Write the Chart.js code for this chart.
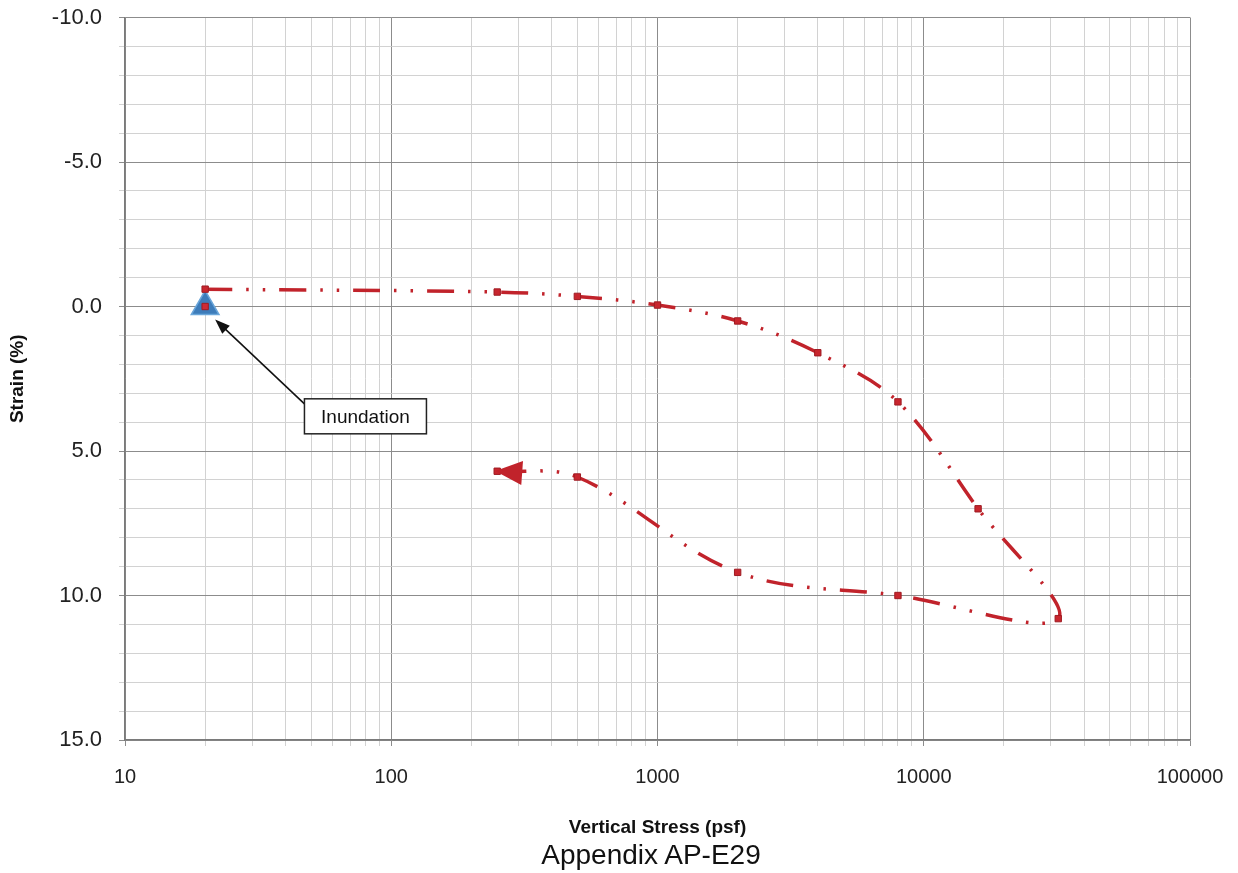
<!DOCTYPE html>
<html>
<head>
<meta charset="utf-8">
<script src="https://cdn.jsdelivr.net/npm/chart.js@4.4.1/dist/chart.umd.min.js"></script>
<style>
  html, body { margin:0; padding:0; background:#fff; }
  #wrap { position:relative; width:1238px; height:873px; }
  #appendix {
    position:absolute; left:0; width:1302px; top:838px; text-align:center;
    font-family:'Liberation Sans', Arial, sans-serif; font-size:28px; line-height:34px; color:#111;
  }
</style>
</head>
<body>
<div id="wrap">
  <canvas id="chart" width="1238" height="873"></canvas>
  <div id="appendix">Appendix AP-E29</div>
</div>
<script>
  // consolidation test: load / unload path
  const stress = [20, 250, 500, 1000, 2000, 4000, 8000, 16000, 32000, 8000, 2000, 500, 250];
  const strain = [-0.6, -0.5, -0.35, -0.05, 0.5, 1.6, 3.3, 7.0, 10.8, 10.0, 9.2, 5.9, 5.7];

  // inundation point
  const inundationStress = [20];
  const inundationStrain = [0.0];
  const noteText = 'Inundation';
  const noteAt = [80, 3.8];   // box centre, data coords

  // axis ticks
  const xMajorTicks = [10, 100, 1000, 10000, 100000];
  const yMajorTicks = [-10, -5, 0, 5, 10, 15];

  const RED = '#c1232b';
  const el = (id) => document.getElementById(id);

  const xy = (xs, ys) => xs.map((x, i) => ({x, y: ys[i]}));

  // arrow head at the end of the curve + inundation callout
  const extras = {
    id: 'extras',
    afterDatasetsDraw(chart) {
      const ctx = chart.ctx;
      const xs = chart.scales.x, ys = chart.scales.y;

      // arrow head on last point of curve
      const meta = chart.getDatasetMeta(0);
      const last = meta.data[meta.data.length - 1];
      let dx = last.x - last.cp1x, dy = last.y - last.cp1y;
      const len = Math.hypot(dx, dy) || 1;
      dx /= len; dy /= len;
      const L = 25, W = 12;
      ctx.save();
      ctx.fillStyle = RED;
      ctx.beginPath();
      ctx.moveTo(last.x + dx * 2, last.y + dy * 2);
      ctx.lineTo(last.x - dx * L - dy * W, last.y - dy * L + dx * W);
      ctx.lineTo(last.x - dx * L + dy * W, last.y - dy * L - dx * W);
      ctx.closePath();
      ctx.fill();
      ctx.restore();

      // callout box
      const bx = xs.getPixelForValue(noteAt[0]);
      const by = ys.getPixelForValue(noteAt[1]);
      const bw = 122, bh = 35;
      const left = bx - bw / 2, top = by - bh / 2;

      // arrow from box to inundation point
      const px = xs.getPixelForValue(inundationStress[0]) + 10;
      const py = ys.getPixelForValue(inundationStrain[0]) + 13;
      const tx = left, ty = top + 5;
      let ax = px - tx, ay = py - ty;
      const al = Math.hypot(ax, ay);
      ax /= al; ay /= al;
      ctx.save();
      ctx.strokeStyle = '#111';
      ctx.fillStyle = '#111';
      ctx.lineWidth = 1.6;
      ctx.beginPath();
      ctx.moveTo(tx, ty);
      ctx.lineTo(px - ax * 10, py - ay * 10);
      ctx.stroke();
      ctx.beginPath();
      ctx.moveTo(px, py);
      ctx.lineTo(px - ax * 15 - ay * 5.5, py - ay * 15 + ax * 5.5);
      ctx.lineTo(px - ax * 15 + ay * 5.5, py - ay * 15 - ax * 5.5);
      ctx.closePath();
      ctx.fill();

      ctx.fillStyle = '#fff';
      ctx.fillRect(left, top, bw, bh);
      ctx.strokeStyle = '#222';
      ctx.lineWidth = 1.5;
      ctx.strokeRect(left, top, bw, bh);
      ctx.fillStyle = '#111';
      ctx.font = '19px "Liberation Sans", Arial, sans-serif';
      ctx.textAlign = 'center';
      ctx.textBaseline = 'middle';
      ctx.fillText(noteText, bx, by + 1);
      ctx.restore();
    }
  };

  const gridColor = (major) => major ? '#8c8c8c' : '#d2d2d2';

  new Chart(el('chart').getContext('2d'), {
    type: 'scatter',
    data: {
      datasets: [
        {
          data: xy(stress, strain),
          showLine: true,
          borderColor: RED,
          borderWidth: 3.5,
          borderDash: [27, 14, 2.5, 14, 2.5, 14],
          tension: 0.35,
          pointStyle: 'rect',
          pointRadius: 4.5,
          pointBackgroundColor: '#c8262e',
          pointBorderColor: '#9e1b22',
          pointBorderWidth: 1
        },
        {
          data: xy(inundationStress, inundationStrain),
          showLine: false,
          pointStyle: 'rect',
          pointRadius: 4.5,
          pointBackgroundColor: '#cc2a35',
          pointBorderColor: '#9e1b22',
          pointBorderWidth: 1
        },
        {
          data: xy(inundationStress, inundationStrain),
          showLine: false,
          pointStyle: 'triangle',
          pointRadius: 16,
          pointBackgroundColor: '#3d7cba',
          pointBorderColor: '#6aa6da',
          pointBorderWidth: 1.5
        }
      ]
    },
    options: {
      responsive: false,
      animation: false,
      layout: { padding: { top: 17, right: 48, left: 0, bottom: 0 } },
      plugins: { legend: { display: false }, tooltip: { enabled: false } },
      scales: {
        x: {
          type: 'logarithmic',
          min: 10, max: 100000,
          afterBuildTicks: (s) => {
            const t = [];
            xMajorTicks.forEach((m, i) => {
              if (i === xMajorTicks.length - 1) { t.push({value: m}); return; }
              for (let k = 1; k <= 9; k++) t.push({value: m * k});
            });
            s.ticks = t;
          },
          afterFit: (s) => { s.height = 133; s.paddingLeft = 0; s.paddingRight = 0; },
          border: { display: true, color: '#7a7a7a', width: 1.5 },
          grid: {
            color: (c) => gridColor(xMajorTicks.includes(c.tick && c.tick.value)),
            lineWidth: 1,
            tickLength: 6
          },
          ticks: {
            autoSkip: false, maxRotation: 0, padding: 19,
            color: '#222',
            font: { family: '"Liberation Sans", Arial, sans-serif', size: 20 },
            callback: (v) => xMajorTicks.includes(v) ? String(v) : ''
          },
          title: {
            display: true, text: 'Vertical Stress (psf)', color: '#111',
            font: { family: '"Liberation Sans", Arial, sans-serif', size: 19, weight: 'bold' },
            padding: { top: 0, bottom: 34 }
          }
        },
        y: {
          min: -10, max: 15, reverse: true,
          afterFit: (s) => { s.width = 125; s.paddingTop = 0; s.paddingBottom = 0; },
          border: { display: true, color: '#7a7a7a', width: 1.5 },
          grid: {
            color: (c) => gridColor(yMajorTicks.includes(c.tick && c.tick.value)),
            lineWidth: 1,
            tickLength: 6
          },
          ticks: {
            stepSize: 1, autoSkip: false, padding: 17,
            color: '#222',
            font: { family: '"Liberation Sans", Arial, sans-serif', size: 22 },
            callback: (v) => yMajorTicks.includes(v) ? v.toFixed(1) : ''
          },
          title: {
            display: true, text: 'Strain (%)', color: '#111',
            font: { family: '"Liberation Sans", Arial, sans-serif', size: 19, weight: 'bold' },
            padding: { top: 6, bottom: 0 }
          }
        }
      }
    },
    plugins: [extras]
  });
</script>
</body>
</html>
